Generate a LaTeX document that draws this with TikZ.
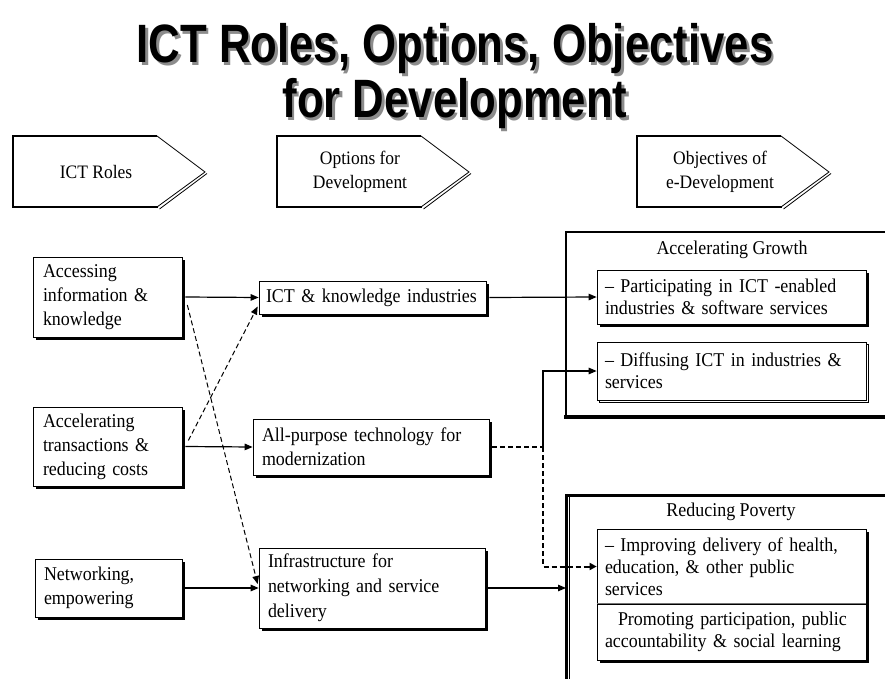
\documentclass[tikz,border=0pt]{standalone}
\usepackage{fontspec}
\setmainfont{Liberation Serif}[FakeStretch=0.92]
\newfontfamily\titlefont{Liberation Sans}[FakeStretch=0.81]
\usetikzlibrary{arrows.meta,shadows,calc}
\begin{document}
\begin{tikzpicture}[x=1pt,y=-1pt,
  every node/.style={inner sep=0pt},
  bx/.style={draw, line width=0.7pt, fill=white, align=left, inner xsep=8pt, inner ysep=0pt,
     font=\fontsize{19.5}{24}\selectfont,
     drop shadow={shadow xshift=3pt, shadow yshift=-3pt, opacity=1, fill=black}},
  bxr/.style={bx, font=\fontsize{19.5}{22}\selectfont},
  bxd/.style={draw, line width=0.7pt, fill=white, align=left, inner xsep=8pt, inner ysep=0pt,
     font=\fontsize{19.5}{22}\selectfont,
     drop shadow={shadow xshift=2.5pt, shadow yshift=-2.5pt, opacity=1, fill=white, draw=black, line width=0.6pt}},
  hdrtext/.style={align=center, font=\fontsize{19}{24}\selectfont},
  grptitle/.style={font=\fontsize{19.5}{22}\selectfont},
  conn/.style={line width=1.2pt, -{Triangle[length=8pt,width=6.5pt]}},
  thindash/.style={line width=1pt, dash pattern=on 5pt off 3pt, -{Triangle[length=8pt,width=6.5pt]}},
  thickdash/.style={line width=2pt, dash pattern=on 5pt off 3pt},
  ttl/.style={anchor=base, font=\titlefont\bfseries\fontsize{54}{60}\selectfont}
]
\useasboundingbox (0,0) rectangle (885,679);
\fill[white] (0,0) rectangle (885,679);

% title with shadow
\node[ttl, text=black!45] (t1s) at (457.5,65.5) {ICT Roles, Options, Objectives};
\node[ttl] (t1) at (455,63) {ICT Roles, Options, Objectives};
\node[ttl, text=black!45] (t2s) at (457.5,120.5) {for Development};
\node[ttl] (t2) at (455,118) {for Development};

% header pentagons
\foreach \xl in {13, 277, 637}{
  \draw[line width=0.8pt, fill=white] (\xl,136) -- ({\xl+144},136) -- ({\xl+192},172) -- ({\xl+144},207) -- (\xl,207) -- cycle;
  \draw[line width=2.4pt] ({\xl+144},136) -- (\xl,136) -- (\xl,207) -- ({\xl+145},207);
  \draw[line width=0.8pt] ({\xl+146.5},209) -- ({\xl+194},173.5);
}
\node[hdrtext] (h1) at (96,172) {ICT Roles};
\node[hdrtext] (h2) at (360,172) {Options for\\Development};
\node[hdrtext] (h3) at (720,172) {Objectives of\\e-Development};

% objective group frames
\coordinate (agTL) at (566,232);
\coordinate (rpTL) at (566,495);
\draw[line width=1.2pt] (895,232) -- (agTL) -- (566,417);
\draw[line width=4pt] (564,417) -- (895,417);
\draw[line width=3pt] (566,700) -- (rpTL) -- (895,495);
\draw[line width=0.6pt] (569.5,497) -- (569.5,700);
\node[grptitle] (ag) at (732,250) {Accelerating Growth};
\node[grptitle] (rp) at (731,512) {Reducing Poverty};

% ICT roles
\node[bx, minimum width=149pt, minimum height=80pt, text width=129pt, inner xsep=10pt] (r1) at (107.5,297) {Accessing\\information \&\\knowledge};
\node[bx, minimum width=149pt, minimum height=79pt, text width=129pt, inner xsep=10pt] (r2) at (107.5,446.5) {Accelerating\\transactions \&\\reducing costs};
\node[bx, minimum width=147pt, minimum height=58pt, text width=129pt, inner xsep=9pt] (r3) at (108.5,588) {Networking,\\empowering};

% options
\node[bx, minimum width=227pt, minimum height=33pt, text width=213pt, inner xsep=7pt] (o1) at (372.5,297.5) {ICT \& knowledge industries};
\node[bx, minimum width=236pt, minimum height=56pt, text width=218pt, inner xsep=9pt] (o2) at (371,447) {All-purpose technology for\\modernization};
\node[bx, minimum width=226pt, minimum height=80pt, text width=208pt, inner xsep=9pt, font=\fontsize{19.5}{25}\selectfont] (o3) at (372,588) {Infrastructure for\\networking and service\\delivery};

% objectives
\node[bxr, minimum width=269pt, minimum height=54pt, text width=253pt] (g1) at (731.5,297) {-- Participating in ICT -enabled\\industries \& software services};
\node[bxd, minimum width=269pt, minimum height=58pt, text width=253pt] (g2) at (731.5,371) {-- Diffusing ICT in industries \&\\services};
\node[bxr, minimum width=269pt, minimum height=75pt, text width=253pt] (p1) at (731.5,566.5) {-- Improving delivery of health,\\education, \& other public\\services};
\node[bxr, minimum width=269pt, minimum height=56pt, text width=253pt] (p2) at (731.5,632) {\hspace*{13pt}Promoting participation, public\\accountability \& social learning};
\draw[black!55, line width=0.7pt] (p2.north west) -- (p2.north east);

% connectors
\draw[conn] ([xshift=3pt]r1.east) -- (o1.west);
\draw[conn] ([xshift=3pt]r2.east) -- (o2.west);
\draw[conn] ([xshift=3pt]r3.east) -- (o3.west);
\draw[thindash] ([xshift=5pt,yshift=-8pt]r1.east) -- ([xshift=-1pt,yshift=4pt]o3.west);
\draw[thindash] ([xshift=6pt,yshift=6pt]r2.east) -- ([xshift=-1pt,yshift=-9pt]o1.west);
\draw[conn] ([xshift=3pt]o1.east) -- (g1.west);
\coordinate (jn) at (543,447);
\draw[thickdash] ([xshift=3pt]o2.east) -- (jn);
\draw[conn] (jn) |- (g2.west);
\draw[thickdash] (jn) |- ([xshift=-8pt]p1.west);
\draw[line width=2pt, -{Triangle[length=7pt,width=7pt]}] ([xshift=-9pt]p1.west) -- (p1.west);
\draw[conn] ([xshift=3pt]o3.east) -- (o3.east -| rpTL);
\end{tikzpicture}
\end{document}
